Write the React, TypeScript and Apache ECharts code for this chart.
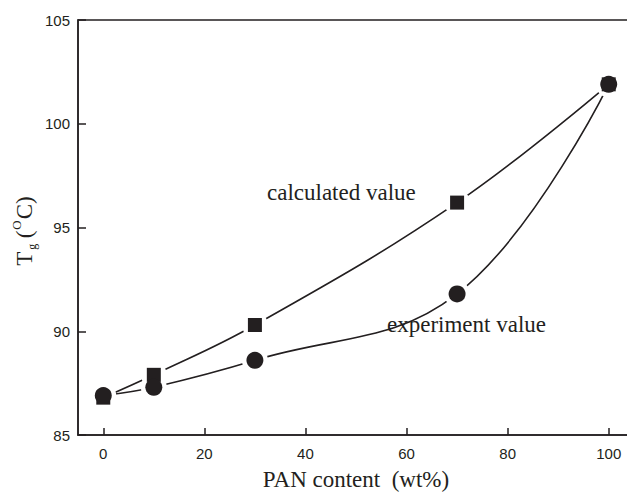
import React, { useEffect, useRef } from "react";
import * as echarts from "echarts";

const xValues = [0, 10, 30, 70, 100];
const calculated = [86.8, 87.9, 90.3, 96.2, 101.9];
const experiment = [86.9, 87.3, 88.6, 91.8, 101.9];
const xTicks = [0, 20, 40, 60, 80, 100];
const yTicks = [85, 90, 95, 100, 105];

const INK = "#231f20";

export default function App() {
  const ref = useRef<HTMLDivElement>(null);
  useEffect(() => {
    if (!ref.current) return;
    const chart = echarts.init(ref.current, null, { renderer: "svg" });
    const calcData = xValues.map((x, i) => [x, calculated[i]]);
    const expData = xValues.map((x, i) => [x, experiment[i]]);
    const lineSeries = (data: number[][]) => ({
      type: "line",
      data,
      smooth: 0.4,
      showSymbol: false,
      symbol: "none",
      lineStyle: { color: INK, width: 1.6 },
      emphasis: { disabled: true },
      z: 1,
    });
    chart.setOption({
      animation: false,
      backgroundColor: "#fff",
      grid: {
        left: 78,
        right: -7,
        top: 20,
        bottom: 58,
        show: true,
        borderColor: INK,
        borderWidth: 1.5,
        containLabel: false,
        outerBoundsMode: "none",
      },
      xAxis: {
        type: "value",
        min: -5,
        max: 105,
        name: "PAN content  (wt%)",
        nameLocation: "middle",
        nameGap: 33,
        nameTextStyle: { fontFamily: "Liberation Serif", fontSize: 23, color: INK },
        axisLine: { show: true, onZero: false, lineStyle: { color: INK, width: 1.5 } },
        axisTick: {
          show: true,
          inside: true,
          length: 7,
          customValues: xTicks,
          lineStyle: { color: INK, width: 1.5 },
        },
        axisLabel: {
          customValues: xTicks,
          fontFamily: "Liberation Sans",
          fontSize: 15,
          color: INK,
          margin: 11,
        },
        splitLine: { show: false },
      },
      yAxis: {
        type: "value",
        min: 85,
        max: 105,
        interval: 5,
        axisLine: { show: true, onZero: false, lineStyle: { color: INK, width: 1.5 } },
        axisTick: {
          show: true,
          inside: true,
          length: 8,
          customValues: yTicks,
          lineStyle: { color: INK, width: 1.5 },
        },
        axisLabel: {
          fontFamily: "Liberation Sans",
          fontSize: 15,
          color: INK,
          margin: 8,
        },
        splitLine: { show: false },
      },
      series: [
        lineSeries(calcData),
        lineSeries(expData),
        {
          type: "scatter",
          data: calcData.concat(expData),
          symbol: "circle",
          symbolSize: 26,
          itemStyle: { color: "#ffffff", opacity: 1 },
          emphasis: { disabled: true },
          z: 10,
        },
        {
          type: "scatter",
          data: calcData,
          symbol: "rect",
          symbolSize: 14,
          itemStyle: { color: INK, opacity: 1 },
          z: 20,
        },
        {
          type: "scatter",
          data: expData,
          symbol: "circle",
          symbolSize: 17,
          itemStyle: { color: INK, opacity: 1 },
          z: 21,
        },
      ],
      graphic: [
        {
          type: "text",
          left: 267,
          top: 181,
          style: {
            text: "calculated value",
            fontFamily: "Liberation Serif",
            fontSize: 23,
            fill: INK,
          },
        },
        {
          type: "text",
          left: 387,
          top: 313,
          style: {
            text: "experiment value",
            fontFamily: "Liberation Serif",
            fontSize: 23,
            fill: INK,
          },
        },
        {
          type: "text",
          x: 24,
          y: 231,
          rotation: Math.PI / 2,
          style: {
            text: "{t|T}{g|g} {t|(}{o|O}{t|C)}",
            align: "center",
            verticalAlign: "middle",
            fill: INK,
            rich: {
              t: { fontFamily: "Liberation Serif", fontSize: 23, fill: INK, lineHeight: 28, verticalAlign: "middle" },
              g: { fontFamily: "Liberation Serif", fontSize: 12, fill: INK, lineHeight: 28, verticalAlign: "bottom", padding: [0, 2, 0, 2] },
              o: { fontFamily: "Liberation Serif", fontSize: 13, fill: INK, lineHeight: 28, verticalAlign: "top", padding: [0, 1, 0, 1] },
            },
          },
        },
      ],
    });
    return () => chart.dispose();
  }, []);
  return (
    <div
      ref={ref}
      style={{ position: "fixed", left: 0, top: 0, width: 627, height: 493 }}
    />
  );
}
